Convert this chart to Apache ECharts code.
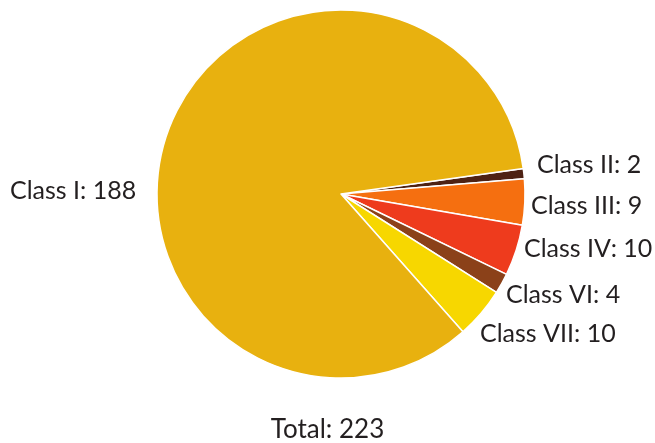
<!DOCTYPE html>
<html>
<head>
<meta charset="utf-8">
<script src="https://cdn.jsdelivr.net/npm/echarts@6/dist/echarts.min.js"></script>
<style>
  html, body { margin: 0; padding: 0; background: #fff; }
  #chart { width: 655px; height: 443px; }
</style>
</head>
<body>
<div id="chart"></div>
<script>
// Class counts, in drawing order (clockwise from just above 3 o'clock)
const categories = ['Class II', 'Class III', 'Class IV', 'Class VI', 'Class VII', 'Class I'];
const counts = [2, 9, 10, 4, 10, 188];
const sliceColors = ['#4e2214', '#f56f10', '#ee3b1d', '#8b4119', '#f7d700', '#e8b10f'];
const totalLabel = 'Total: ' + counts.reduce((a, b) => a + b, 0);

// Label anchor points (left edge / vertical middle)
const labelAnchors = [
  [537, 165], [531, 206], [524, 249], [506, 295], [480, 334], [10, 191]
];

const chart = echarts.init(document.getElementById('chart'), null, { renderer: 'canvas' });

chart.setOption({
  animation: false,
  backgroundColor: '#ffffff',
  title: {
    text: totalLabel,
    left: 'center',
    top: 412,
    textStyle: { fontFamily: 'Lato', fontWeight: 'normal', fontSize: 26, color: '#231f20' }
  },
  series: [{
    type: 'pie',
    center: [341, 194],
    radius: [0, 184],
    startAngle: 8,
    clockwise: true,
    avoidLabelOverlap: false,
    data: categories.map((name, i) => ({
      name,
      value: counts[i],
      itemStyle: { color: sliceColors[i] }
    })),
    itemStyle: { borderColor: '#ffffff', borderWidth: 1.5 },
    label: {
      show: true,
      position: 'outside',
      formatter: '{b}: {c}',
      fontFamily: 'Lato',
      fontSize: 25,
      color: '#231f20'
    },
    labelLine: { show: false },
    labelLayout: function (params) {
      const p = labelAnchors[params.dataIndex];
      return { x: p[0], y: p[1], align: 'left', verticalAlign: 'middle' };
    }
  }]
});
</script>
</body>
</html>
